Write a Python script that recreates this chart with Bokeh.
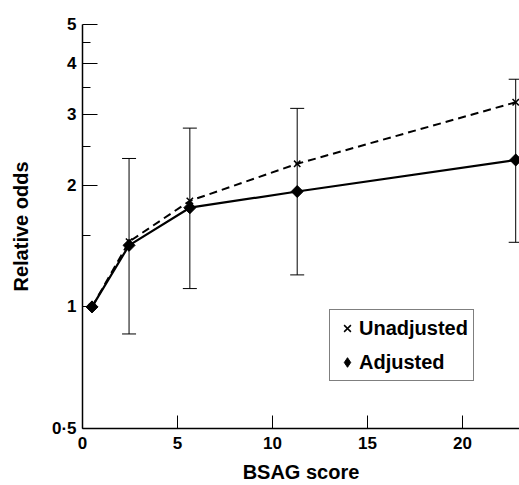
from bokeh.plotting import figure
from bokeh.models import (FixedTicker, Range1d, Whisker, TeeHead, ColumnDataSource,
                          Legend, LegendItem)
from bokeh.embed import file_html
from bokeh.resources import INLINE

# ---- data ----
score = [0.5, 2.45, 5.65, 11.3, 22.8]
unadjusted = [1.0, 1.45, 1.83, 2.26, 3.21]
adjusted = [1.0, 1.42, 1.76, 1.93, 2.31]

ci_score = [2.45, 5.65, 11.3, 22.8]
ci_lower = [0.857, 1.11, 1.20, 1.445]
ci_upper = [2.33, 2.77, 3.10, 3.66]

x_ticks = [0, 5, 10, 15, 20]
y_ticks = [0.5, 1, 2, 3, 4, 5]
y_tick_labels = ["0·5", "1", "2", "3", "4", "5"]
y_minor_ticks = [1.5, 2.5, 3.5, 4.5]

FONT = "Liberation Sans"

p = figure(width=519, height=485, y_axis_type="log",
           x_range=Range1d(0, 23), y_range=Range1d(0.5, 5),
           output_backend="svg", toolbar_location=None,
           min_border_left=82, min_border_right=0,
           min_border_top=24, min_border_bottom=57)
p.grid.visible = False
p.outline_line_color = None
p.background_fill_color = "white"

# axes
xa = p.xaxis[0]
xa.ticker = FixedTicker(ticks=x_ticks, minor_ticks=[])
xa.axis_label = "BSAG score"
xa.major_tick_in = 13
xa.major_tick_out = 0
xa.minor_tick_in = 0
xa.minor_tick_out = 0
xa.axis_line_width = 1.5
xa.major_tick_line_width = 1
xa.major_label_standoff = 8
xa.axis_label_standoff = 9

ya = p.yaxis[0]
ya.ticker = FixedTicker(ticks=y_ticks, minor_ticks=y_minor_ticks)
ya.major_label_overrides = dict(zip(y_ticks, y_tick_labels))
ya.axis_label = "Relative odds"
ya.major_tick_in = 15
ya.major_tick_out = 0
ya.minor_tick_in = 8
ya.minor_tick_out = 0
ya.axis_line_width = 1.5
ya.major_tick_line_width = 1
ya.minor_tick_line_width = 1
ya.major_label_standoff = 6
ya.axis_label_standoff = 17

for ax in (xa, ya):
    ax.major_label_text_font = FONT
    ax.major_label_text_font_size = "17px"
    ax.major_label_text_font_style = "bold"
    ax.major_label_text_color = "black"
    ax.axis_label_text_font = FONT
    ax.axis_label_text_font_size = "20px"
    ax.axis_label_text_font_style = "bold"
    ax.axis_label_text_color = "black"
    ax.axis_line_color = "black"
    ax.major_tick_line_color = "black"
    ax.minor_tick_line_color = "black"

# error bars (for adjusted estimates)
ci_src = ColumnDataSource(dict(x=ci_score, lo=ci_lower, hi=ci_upper))
wh = Whisker(base="x", lower="lo", upper="hi", source=ci_src,
             line_color="black", line_width=1,
             upper_head=TeeHead(size=14, line_color="black", line_width=1),
             lower_head=TeeHead(size=14, line_color="black", line_width=1))
p.add_layout(wh)

# lines
p.line(score, unadjusted, line_color="black", line_width=2, line_dash="8 5")
p.line(score, adjusted, line_color="black", line_width=2.2)

# markers
r_x = p.scatter(score, unadjusted, marker="x", size=9, line_color="black", line_width=1.5)
p.scatter(score, adjusted, marker="square", angle=0.785398, size=8.5,
          fill_color="black", line_color="black")
r_d = p.scatter(score, adjusted, marker="diamond", size=11,
                fill_color="black", line_color="black")

legend = Legend(items=[LegendItem(label="Unadjusted", renderers=[r_x]),
                       LegendItem(label="Adjusted", renderers=[r_d])],
                location=(247, 47), orientation="vertical",
                padding=5, spacing=8, margin=0,
                glyph_width=24, glyph_height=26, label_height=26,
                label_standoff=0,
                label_text_font=FONT, label_text_font_size="20px",
                label_text_font_style="bold", label_text_color="black",
                border_line_color="black", border_line_width=1,
                background_fill_color="white", background_fill_alpha=1)
p.add_layout(legend, "center")

open("out.html", "w").write(file_html(p, INLINE))
